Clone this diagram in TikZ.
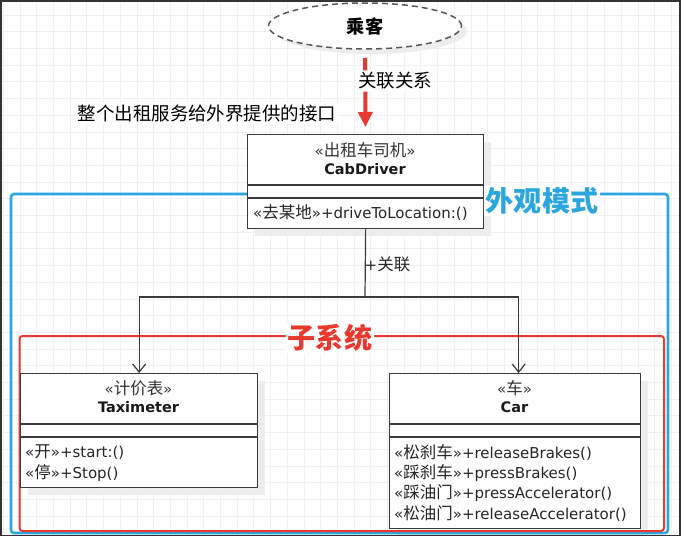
\documentclass[tikz,border=0pt]{standalone}
\usepackage{fontspec}
\setmainfont{DejaVu Sans}
\newfontfamily\cjk[Scale=1.1]{Noto Sans CJK SC}
\newcommand\zh[1]{{\cjk #1}}
\usetikzlibrary{shapes.geometric,arrows.meta}

\definecolor{facadeblue}{HTML}{2BA6DE}
\definecolor{subred}{HTML}{E8392E}
\definecolor{umlline}{HTML}{3A3A3A}
\definecolor{gridgray}{HTML}{F0F0F0}

\tikzset{
  classbox/.style={draw=umlline, line width=1.3pt, fill=white, anchor=north west, inner sep=0pt},
  boxshadow/.style={fill=black!7},
  member/.style={anchor=west, inner sep=0pt, text=black!85, font=\fontsize{15}{18}\selectfont},
  stereo/.style={inner sep=0pt, text=black!80, font=\fontsize{15}{18}\selectfont},
  classname/.style={inner sep=0pt, text=black!90, font=\fontsize{14.5}{18}\selectfont\bfseries},
  halo/.style={fill=white, inner sep=2pt, rounded corners=2pt},
  umlconn/.style={draw=umlline, line width=1.2pt},
  assoc/.style={umlconn, -{Straight Barb[length=8pt,width=13pt,line width=1.2pt]}},
}

\begin{document}
\begin{tikzpicture}[x=1pt,y=-1pt]
\useasboundingbox (0,0) rectangle (681,536);
\fill[white] (0,0) rectangle (681,536);
\foreach \g in {3.3,20,...,681}
  \draw[gridgray, line width=0.8pt] (\g,0) -- (\g,536);
\foreach \g in {15,31.7,...,536}
  \draw[gridgray, line width=0.8pt] (0,\g) -- (681,\g);

\fill[boxshadow] (371,31) ellipse [x radius=96pt, y radius=23pt];
\fill[boxshadow] (255,142) rectangle (491,236);
\fill[boxshadow] (28,381) rectangle (265,495);
\fill[boxshadow] (397,381) rectangle (648,536);

\draw[facadeblue, line width=2.6pt, rounded corners=3pt] (11,194) rectangle (668,533);
\draw[subred, line width=2pt, rounded corners=3pt] (19.5,336) rectangle (664,531);

\node[ellipse, draw=umlline!85, dash pattern=on 6pt off 4pt, line width=1.5pt, fill=white,
  minimum width=193pt, minimum height=46pt, inner sep=0pt, font=\cjk\bfseries\fontsize{16.5}{18}\selectfont] (rider) at (365,26) {乘客};

\node[classbox, minimum width=236pt, minimum height=94pt] (cab) at (247,134) {};
\draw[umlconn] (cab.north west) ++(0,51) -- ++(236,0) ++(-236,13) -- ++(236,0);
\node[stereo] at (365,150) {«\zh{出租车司机}»};
\node[classname] at (365,169) {CabDriver};
\node[member] at (253,213) {«\zh{去某地}»+driveToLocation:()};

\node[classbox, minimum width=237pt, minimum height=114pt] (taxi) at (20,373) {};
\draw[umlconn] (taxi.north west) ++(0,51) -- ++(237,0) ++(-237,13) -- ++(237,0);
\node[stereo] at (138.5,388) {«\zh{计价表}»};
\node[classname] at (138.5,407) {Taximeter};
\node[member] at (25,452) {«\zh{开}»+start:()};
\node[member] at (25,473) {«\zh{停}»+Stop()};

\node[classbox, minimum width=251pt, minimum height=155pt] (car) at (389,373) {};
\draw[umlconn] (car.north west) ++(0,51) -- ++(251,0) ++(-251,13) -- ++(251,0);
\node[stereo] at (514.5,388) {«\zh{车}»};
\node[classname] at (514.5,407) {Car};
\node[member] at (394,453) {«\zh{松刹车}»+releaseBrakes()};
\node[member] at (394,473) {«\zh{踩刹车}»+pressBrakes()};
\node[member] at (394,493) {«\zh{踩油门}»+pressAccelerator()};
\node[member] at (394,514) {«\zh{松油门}»+releaseAccelerator()};

\coordinate (split) at (365,297);
\draw[umlconn] (cab.south) -- (split);
\draw[assoc] (split) -| (taxi.north);
\draw[assoc] (split) -| ([xshift=3.5pt]car.north);
\node[anchor=west, inner sep=0pt, text=black!85, font=\fontsize{15}{18}\selectfont] (link) at (364.5,264) {+\zh{关联}};

\draw[subred, line width=4pt, shorten <=8pt, shorten >=7pt,
  -{Triangle[length=15pt,width=14pt]}] (rider) -- (cab);
\node[halo, font=\cjk\fontsize{16.8}{18}\selectfont] (assoclabel) at (395,81) {关联关系};
\node[halo, font=\cjk\fontsize{16.8}{18}\selectfont] (note) at (207,113) {整个出租服务给外界提供的接口};
\node[halo, text=facadeblue, font=\cjk\bfseries\fontsize{25.5}{28}\selectfont] (facade) at (542,201) {外观模式};
\node[halo, text=subred, font=\cjk\bfseries\fontsize{25.5}{28}\selectfont] (subsys) at (330,338) {子系统};

\fill[black!80] (0,0) rectangle (681,1.5);
\fill[black!80] (0,0) rectangle (2,536);
\fill[black!80] (678.5,0) rectangle (681,536);
\fill[black!80] (0,534.5) rectangle (681,536);
\end{tikzpicture}
\end{document}
